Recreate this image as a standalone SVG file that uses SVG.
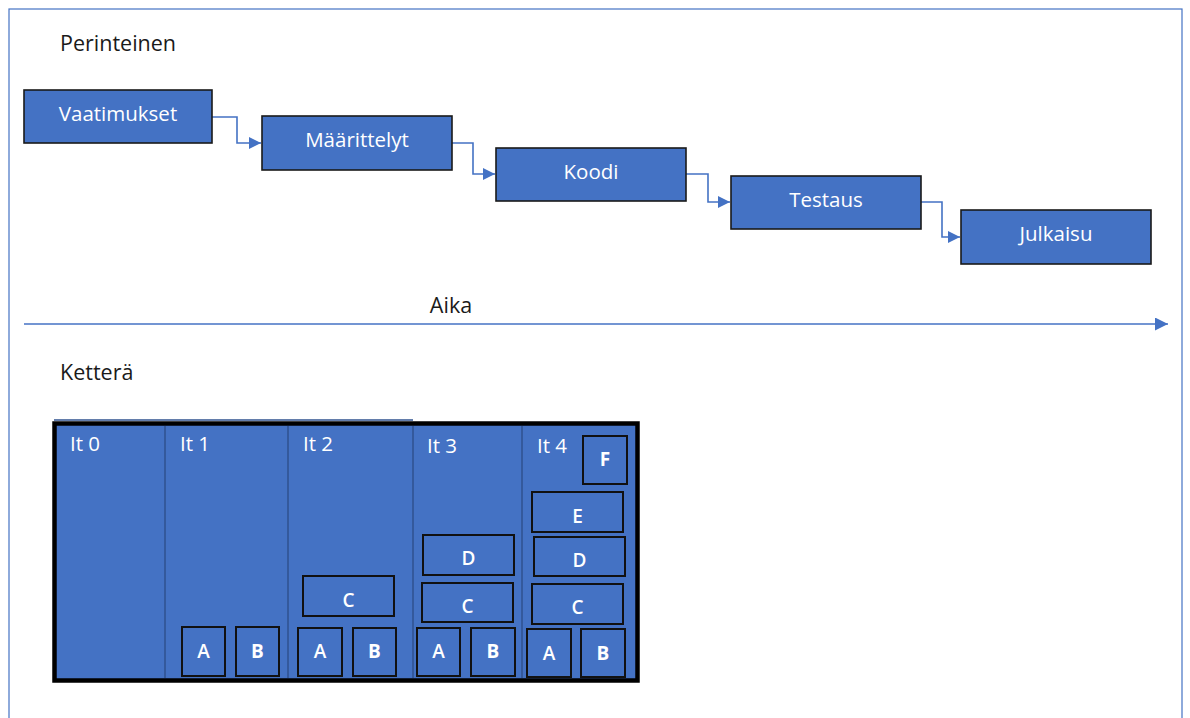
<svg xmlns="http://www.w3.org/2000/svg" width="1190" height="718" viewBox="0 0 1190 718">
  <style>
    .frame { fill: #ffffff; stroke: #4472C4; stroke-width: 1.2; }
    .step rect { fill: #4472C4; stroke: #1a1a1a; stroke-width: 1.6; }
    .step text { fill: #ffffff; font-family: "Open Sans", "Noto Sans", sans-serif; font-size: 20.5px; font-weight: 500; text-anchor: middle; }
    .heading { fill: #1a1a1a; font-family: "Open Sans", "Noto Sans", sans-serif; font-size: 21.5px; }
    .link { fill: none; stroke: #4472C4; stroke-width: 1.6; }
    .board { fill: #4472C4; stroke: #000000; stroke-width: 4.5; }
    .divider { stroke: #2F528F; stroke-width: 1.5; }
    .col { fill: #ffffff; font-family: "Open Sans", "Noto Sans", sans-serif; font-size: 20.5px; font-weight: 500; }
    .item rect { fill: #4472C4; stroke: #111111; stroke-width: 2; }
    .item text { fill: #ffffff; font-family: "Open Sans", "Noto Sans", sans-serif; font-size: 19px; font-weight: 600; text-anchor: middle; }
    .item text.b { font-weight: 700; }
  </style>
  <defs>
    <marker id="head" viewBox="0 0 10 10" refX="10" refY="5" markerWidth="13" markerHeight="12" markerUnits="userSpaceOnUse" orient="auto">
      <path d="M0,0 L10,5 L0,10 z" fill="#4472C4"/>
    </marker>
    <marker id="headBig" viewBox="0 0 10 10" refX="10" refY="5" markerWidth="14" markerHeight="13" markerUnits="userSpaceOnUse" orient="auto">
      <path d="M0,0 L10,5 L0,10 z" fill="#4472C4"/>
    </marker>
  </defs>

  <!-- outer frame -->
  <rect class="frame" x="9" y="9" width="1173" height="720"/>

  <text class="heading" x="60" y="51">Perinteinen</text>

  <!-- waterfall connectors -->
  <g id="connectors">
    <path class="link" d="M212,117 H237 V143 H261" marker-end="url(#head)"/>
    <path class="link" d="M452,143 H473 V174 H495" marker-end="url(#head)"/>
    <path class="link" d="M686,174 H708 V202 H730" marker-end="url(#head)"/>
    <path class="link" d="M921,202 H942 V237 H960" marker-end="url(#head)"/>
    <path class="link" d="M24,324 H1168" marker-end="url(#headBig)"/>
  </g>

  <g id="vaatimukset" class="step">
    <rect x="24" y="90" width="188" height="53"/>
    <text x="118" y="120.5">Vaatimukset</text>
  </g>
  <g id="maarittelyt" class="step">
    <rect x="262" y="116" width="190" height="54"/>
    <text x="357" y="147">Määrittelyt</text>
  </g>
  <g id="koodi" class="step">
    <rect x="496" y="148" width="190" height="53"/>
    <text x="591" y="178.5">Koodi</text>
  </g>
  <g id="testaus" class="step">
    <rect x="731" y="176" width="190" height="53"/>
    <text x="826" y="206.5">Testaus</text>
  </g>
  <g id="julkaisu" class="step">
    <rect x="961" y="210" width="190" height="54"/>
    <text x="1056" y="241">Julkaisu</text>
  </g>

  <text class="heading" x="451" y="313" text-anchor="middle">Aika</text>
  <text class="heading" x="60" y="380">Ketterä</text>

  <!-- iteration board -->
  <g id="board">
    <line x1="54" y1="420" x2="413" y2="420" stroke="#2F528F" stroke-width="1.5"/>
    <rect class="board" x="54.5" y="423.5" width="583" height="257"/>
    <line class="divider" x1="165" y1="426" x2="165" y2="678"/>
    <line class="divider" x1="288" y1="426" x2="288" y2="678"/>
    <line class="divider" x1="413" y1="426" x2="413" y2="678"/>
    <line class="divider" x1="522" y1="426" x2="522" y2="678"/>
    <text class="col" x="70" y="451">It 0</text>
    <text class="col" x="180" y="451">It 1</text>
    <text class="col" x="303" y="451">It 2</text>
    <text class="col" x="427" y="452.5">It 3</text>
    <text class="col" x="537" y="452.5">It 4</text>
  </g>

  <!-- iteration 1 -->
  <g id="it1-a" class="item"><rect x="182" y="627" width="43" height="49"/><text x="203.5" y="658">A</text></g>
  <g id="it1-b" class="item"><rect x="236" y="627" width="43" height="49"/><text class="b" x="257.5" y="658">B</text></g>

  <!-- iteration 2 -->
  <g id="it2-a" class="item"><rect x="298" y="628" width="44" height="48"/><text x="320" y="658">A</text></g>
  <g id="it2-b" class="item"><rect x="353" y="628" width="43" height="48"/><text class="b" x="374.5" y="658">B</text></g>
  <g id="it2-c" class="item"><rect x="303" y="576" width="91" height="40"/><text x="348.5" y="607">C</text></g>

  <!-- iteration 3 -->
  <g id="it3-a" class="item"><rect x="417" y="628" width="43" height="48"/><text x="438.5" y="658">A</text></g>
  <g id="it3-b" class="item"><rect x="471" y="628" width="44" height="48"/><text class="b" x="493" y="658">B</text></g>
  <g id="it3-c" class="item"><rect x="422" y="583" width="91" height="39"/><text x="467.5" y="613">C</text></g>
  <g id="it3-d" class="item"><rect x="423" y="535" width="91" height="40"/><text x="468.5" y="565">D</text></g>

  <!-- iteration 4 -->
  <g id="it4-a" class="item"><rect x="527" y="629" width="44" height="48"/><text x="549" y="660">A</text></g>
  <g id="it4-b" class="item"><rect x="581" y="629" width="44" height="48"/><text class="b" x="603" y="660">B</text></g>
  <g id="it4-c" class="item"><rect x="532" y="584" width="91" height="40"/><text x="577.5" y="614">C</text></g>
  <g id="it4-d" class="item"><rect x="534" y="537" width="91" height="39"/><text x="579.5" y="567">D</text></g>
  <g id="it4-e" class="item"><rect x="532" y="492" width="91" height="40"/><text x="577.5" y="523">E</text></g>
  <g id="it4-f" class="item"><rect x="583" y="436" width="44" height="48"/><text class="b" x="605" y="466">F</text></g>
</svg>
